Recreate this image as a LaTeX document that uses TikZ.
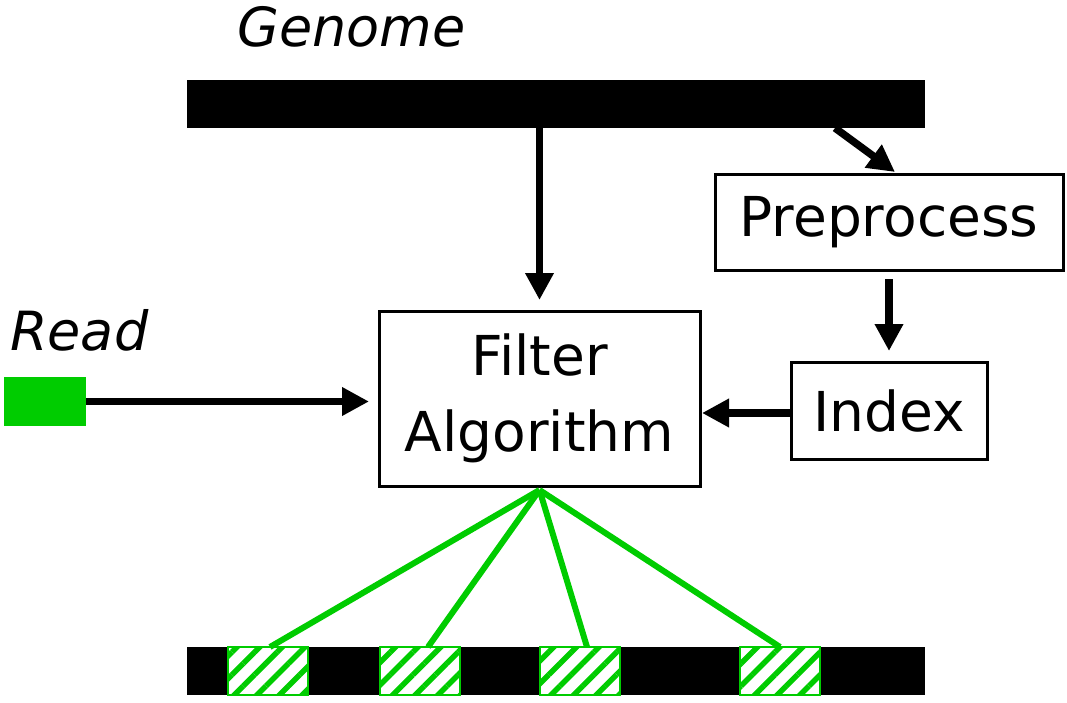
\documentclass[tikz,border=0pt]{standalone}
\usepackage{fontspec}
\setmainfont{DejaVu Sans}
\usetikzlibrary{arrows.meta,patterns.meta,calc}
\definecolor{rgreen}{RGB}{0,204,0}
\tikzset{
  bar/.style={fill=black,draw=none,inner sep=0,outer sep=0,minimum width=738pt,minimum height=48pt,anchor=north west},
  procbox/.style={draw=black,line width=3pt,fill=white,inner sep=0,outer sep=0,align=center,font=\fontsize{55}{76}\selectfont},
  lbl/.style={inner sep=0,anchor=base west,font=\fontsize{54}{60}\selectfont\itshape},
  arr/.style={line width=7.5pt,-{Triangle[length=27pt,width=27pt]}},
  hatch/.style={draw=rgreen,line width=2.5pt,inner sep=0,outer sep=0,minimum width=80pt,minimum height=48pt,anchor=north west,
    preaction={fill=white},pattern={Lines[angle=45,distance=16pt,line width=5.5pt]},pattern color=rgreen},
  link/.style={draw=rgreen,line width=6pt}
}
\begin{document}
\begin{tikzpicture}[x=1pt,y=-1pt]
\useasboundingbox (0,0) rectangle (1067,703);
% labels
\node[lbl] (glbl) at (237,47) {Genome};
\node[lbl] (rlbl) at (10,350) {Read};
% bars
\node[bar] (genome) at (187,80) {};
\node[bar] (target) at (187,647) {};
% boxes
\node[procbox,minimum width=348pt,minimum height=95pt,anchor=north west] (pre) at (715,175) {Preprocess};
\node[procbox,minimum width=196pt,minimum height=97pt,anchor=north west] (idx) at (791,362) {Index};
\node[procbox,minimum width=321pt,minimum height=175pt,anchor=north west] (filt) at (379,311) {Filter\\Algorithm};
% read
\node[fill=rgreen,draw=none,inner sep=0,outer sep=0,minimum width=82pt,minimum height=49pt,anchor=north west] (read) at (4,377) {};
% arrows
\draw[arr,shorten >=10pt] (read.east) -- (read.east -| filt.west);
\draw[arr,shorten >=11pt] (filt.north |- genome.south) -- (filt.north);
\coordinate (gp) at ($(genome.south west)+(648,0)$);
\coordinate (pp) at ($(pre.north)+(6,-3)$);
\draw[arr] (gp) -- (pp);
\draw[arr,shorten <=9pt,shorten >=11pt] (pre.south) -- (idx.north);
\draw[arr,shorten >=2pt] ([yshift=-2.5pt]idx.west) -- ([yshift=-2.5pt]idx.west -| filt.east);
% hatched matches
\coordinate (fo) at ($(filt.south)+(0,4)$);
\node[hatch] (h1) at (228,647) {};
\node[hatch] (h2) at (380,647) {};
\node[hatch] (h3) at (540,647) {};
\node[hatch] (h4) at (740,647) {};
\draw[link] (fo) -- ([xshift=2pt]h1.north);
\draw[link] (fo) -- ([xshift=8pt]h2.north);
\draw[link] (fo) -- ([xshift=7pt]h3.north);
\draw[link] (fo) -- (h4.north);
\end{tikzpicture}
\end{document}
